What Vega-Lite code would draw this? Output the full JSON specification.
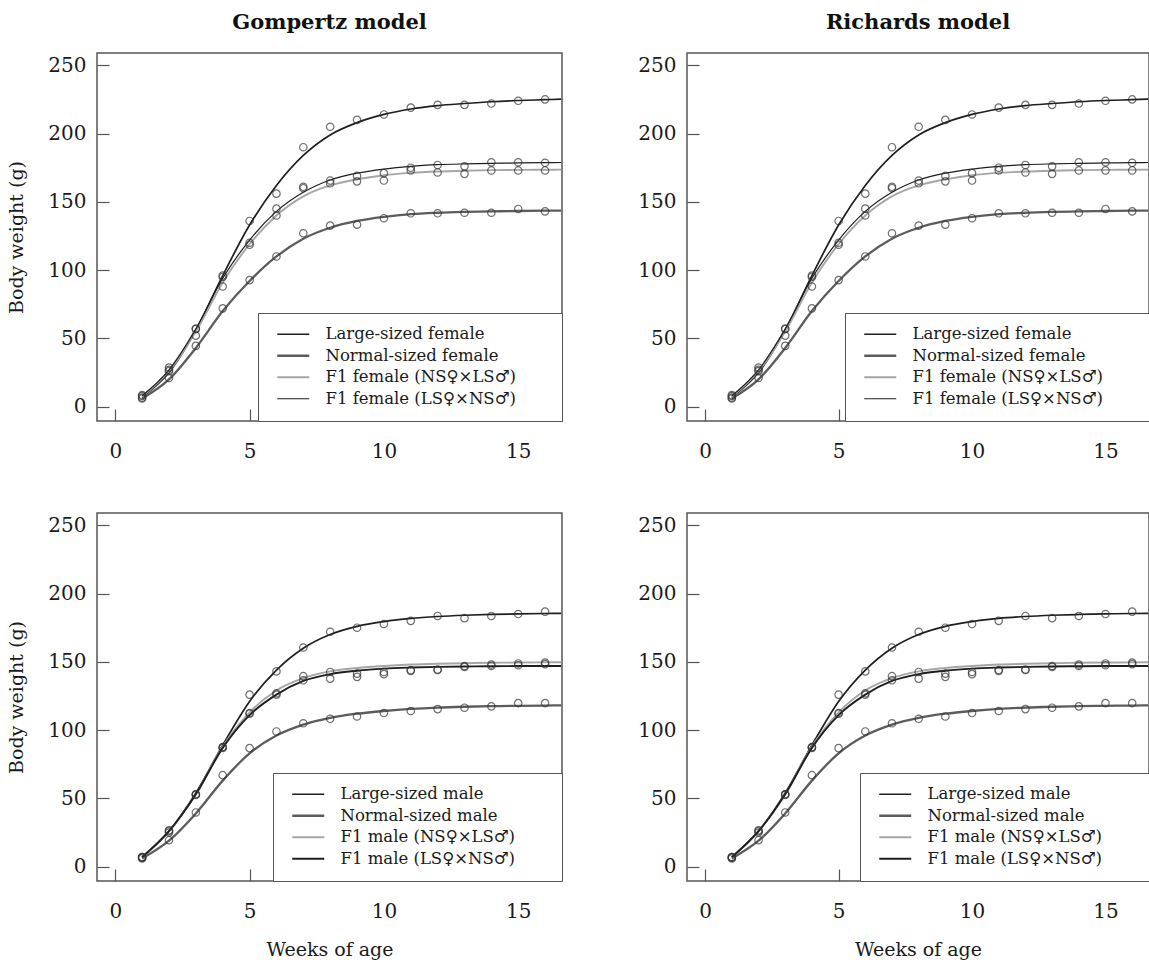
{
  "$schema": "https://vega.github.io/schema/vega-lite/v6.json",
  "background": "white",
  "padding": {"left": 7, "top": 11, "right": 0, "bottom": 0},
  "bounds": "flush",
  "columns": 2,
  "spacing": {"row": 92, "column": 125},
  "config": {
    "font": "DejaVu Serif",
    "view": {"stroke": "#555555", "strokeWidth": 1.5},
    "axis": {"domain": false, "grid": false, "tickColor": "#555555", "tickSize": -12, "tickWidth": 1.2,
      "labelFont": "DejaVu Serif", "labelFontSize": 20, "labelColor": "#1a1a1a",
      "titleFont": "DejaVu Serif", "titleFontSize": 19, "titleFontWeight": "normal", "titleColor": "#1a1a1a"},
    "axisY": {"labelPadding": 23, "titlePadding": 21},
    "axisX": {"labelPadding": 32, "titlePadding": 19},
    "title": {"font": "DejaVu Serif", "fontSize": 21, "fontWeight": "bold", "color": "#111111", "offset": 20},
    "legend": {"orient": "bottom-right", "offset": 0, "fillColor": "white", "strokeColor": "#555555", "padding": 13,
      "symbolType": "M-3.2,0H3.2", "symbolSize": 100, "symbolStrokeWidth": 2, "labelFont": "DejaVu Serif", "labelFontSize": 16.5,
      "labelColor": "#1a1a1a", "labelOffset": 24, "rowPadding": 4.5, "symbolOffset": 14, "labelLimit": 500}
  },
  "resolve": {"scale": {"color": "independent", "strokeWidth": "independent"}, "legend": {"color": "independent", "strokeWidth": "independent"}},
  "datasets": {
    "obs": [
      {"sex":"F","series":"Large-sized female","week":1,"weight":7.8},{"sex":"F","series":"Large-sized female","week":2,"weight":27},{"sex":"F","series":"Large-sized female","week":3,"weight":57},{"sex":"F","series":"Large-sized female","week":4,"weight":95},{"sex":"F","series":"Large-sized female","week":5,"weight":136},{"sex":"F","series":"Large-sized female","week":6,"weight":156},{"sex":"F","series":"Large-sized female","week":7,"weight":190},{"sex":"F","series":"Large-sized female","week":8,"weight":205},{"sex":"F","series":"Large-sized female","week":9,"weight":210},{"sex":"F","series":"Large-sized female","week":10,"weight":214},{"sex":"F","series":"Large-sized female","week":11,"weight":219},{"sex":"F","series":"Large-sized female","week":12,"weight":221},{"sex":"F","series":"Large-sized female","week":13,"weight":221},{"sex":"F","series":"Large-sized female","week":14,"weight":222},{"sex":"F","series":"Large-sized female","week":15,"weight":224},{"sex":"F","series":"Large-sized female","week":16,"weight":225},
      {"sex":"F","series":"Normal-sized female","week":1,"weight":6},{"sex":"F","series":"Normal-sized female","week":2,"weight":21},{"sex":"F","series":"Normal-sized female","week":3,"weight":44.5},{"sex":"F","series":"Normal-sized female","week":4,"weight":72},{"sex":"F","series":"Normal-sized female","week":5,"weight":92.7},{"sex":"F","series":"Normal-sized female","week":6,"weight":110},{"sex":"F","series":"Normal-sized female","week":7,"weight":127},{"sex":"F","series":"Normal-sized female","week":8,"weight":132.6},{"sex":"F","series":"Normal-sized female","week":9,"weight":133.3},{"sex":"F","series":"Normal-sized female","week":10,"weight":138},{"sex":"F","series":"Normal-sized female","week":11,"weight":141.6},{"sex":"F","series":"Normal-sized female","week":12,"weight":141.6},{"sex":"F","series":"Normal-sized female","week":13,"weight":142},{"sex":"F","series":"Normal-sized female","week":14,"weight":142},{"sex":"F","series":"Normal-sized female","week":15,"weight":144.8},{"sex":"F","series":"Normal-sized female","week":16,"weight":143},
      {"sex":"F","series":"F1 female (NS♀×LS♂)","week":1,"weight":6.6},{"sex":"F","series":"F1 female (NS♀×LS♂)","week":2,"weight":26},{"sex":"F","series":"F1 female (NS♀×LS♂)","week":3,"weight":52},{"sex":"F","series":"F1 female (NS♀×LS♂)","week":4,"weight":88},{"sex":"F","series":"F1 female (NS♀×LS♂)","week":5,"weight":118.6},{"sex":"F","series":"F1 female (NS♀×LS♂)","week":6,"weight":140},{"sex":"F","series":"F1 female (NS♀×LS♂)","week":7,"weight":160},{"sex":"F","series":"F1 female (NS♀×LS♂)","week":8,"weight":163.6},{"sex":"F","series":"F1 female (NS♀×LS♂)","week":9,"weight":165},{"sex":"F","series":"F1 female (NS♀×LS♂)","week":10,"weight":165.6},{"sex":"F","series":"F1 female (NS♀×LS♂)","week":11,"weight":173},{"sex":"F","series":"F1 female (NS♀×LS♂)","week":12,"weight":171.5},{"sex":"F","series":"F1 female (NS♀×LS♂)","week":13,"weight":170.5},{"sex":"F","series":"F1 female (NS♀×LS♂)","week":14,"weight":173},{"sex":"F","series":"F1 female (NS♀×LS♂)","week":15,"weight":173},{"sex":"F","series":"F1 female (NS♀×LS♂)","week":16,"weight":173},
      {"sex":"F","series":"F1 female (LS♀×NS♂)","week":1,"weight":8.5},{"sex":"F","series":"F1 female (LS♀×NS♂)","week":2,"weight":28.6},{"sex":"F","series":"F1 female (LS♀×NS♂)","week":3,"weight":57},{"sex":"F","series":"F1 female (LS♀×NS♂)","week":4,"weight":96},{"sex":"F","series":"F1 female (LS♀×NS♂)","week":5,"weight":120},{"sex":"F","series":"F1 female (LS♀×NS♂)","week":6,"weight":145},{"sex":"F","series":"F1 female (LS♀×NS♂)","week":7,"weight":161},{"sex":"F","series":"F1 female (LS♀×NS♂)","week":8,"weight":165.6},{"sex":"F","series":"F1 female (LS♀×NS♂)","week":9,"weight":169},{"sex":"F","series":"F1 female (LS♀×NS♂)","week":10,"weight":171},{"sex":"F","series":"F1 female (LS♀×NS♂)","week":11,"weight":175},{"sex":"F","series":"F1 female (LS♀×NS♂)","week":12,"weight":177},{"sex":"F","series":"F1 female (LS♀×NS♂)","week":13,"weight":176},{"sex":"F","series":"F1 female (LS♀×NS♂)","week":14,"weight":179},{"sex":"F","series":"F1 female (LS♀×NS♂)","week":15,"weight":179},{"sex":"F","series":"F1 female (LS♀×NS♂)","week":16,"weight":178.6},
      {"sex":"M","series":"Large-sized male","week":1,"weight":7},{"sex":"M","series":"Large-sized male","week":2,"weight":26.7},{"sex":"M","series":"Large-sized male","week":3,"weight":53},{"sex":"M","series":"Large-sized male","week":4,"weight":87.5},{"sex":"M","series":"Large-sized male","week":5,"weight":126},{"sex":"M","series":"Large-sized male","week":6,"weight":143},{"sex":"M","series":"Large-sized male","week":7,"weight":160.5},{"sex":"M","series":"Large-sized male","week":8,"weight":172},{"sex":"M","series":"Large-sized male","week":9,"weight":175},{"sex":"M","series":"Large-sized male","week":10,"weight":177.7},{"sex":"M","series":"Large-sized male","week":11,"weight":180},{"sex":"M","series":"Large-sized male","week":12,"weight":183.6},{"sex":"M","series":"Large-sized male","week":13,"weight":182},{"sex":"M","series":"Large-sized male","week":14,"weight":183.6},{"sex":"M","series":"Large-sized male","week":15,"weight":185},{"sex":"M","series":"Large-sized male","week":16,"weight":186.8},
      {"sex":"M","series":"Normal-sized male","week":1,"weight":6},{"sex":"M","series":"Normal-sized male","week":2,"weight":19.4},{"sex":"M","series":"Normal-sized male","week":3,"weight":39.7},{"sex":"M","series":"Normal-sized male","week":4,"weight":67},{"sex":"M","series":"Normal-sized male","week":5,"weight":86.8},{"sex":"M","series":"Normal-sized male","week":6,"weight":99},{"sex":"M","series":"Normal-sized male","week":7,"weight":105},{"sex":"M","series":"Normal-sized male","week":8,"weight":108.3},{"sex":"M","series":"Normal-sized male","week":9,"weight":110},{"sex":"M","series":"Normal-sized male","week":10,"weight":112.5},{"sex":"M","series":"Normal-sized male","week":11,"weight":114},{"sex":"M","series":"Normal-sized male","week":12,"weight":115.4},{"sex":"M","series":"Normal-sized male","week":13,"weight":116.4},{"sex":"M","series":"Normal-sized male","week":14,"weight":117.4},{"sex":"M","series":"Normal-sized male","week":15,"weight":119.8},{"sex":"M","series":"Normal-sized male","week":16,"weight":119.8},
      {"sex":"M","series":"F1 male (NS♀×LS♂)","week":1,"weight":7},{"sex":"M","series":"F1 male (NS♀×LS♂)","week":2,"weight":26},{"sex":"M","series":"F1 male (NS♀×LS♂)","week":3,"weight":53},{"sex":"M","series":"F1 male (NS♀×LS♂)","week":4,"weight":87.5},{"sex":"M","series":"F1 male (NS♀×LS♂)","week":5,"weight":112.5},{"sex":"M","series":"F1 male (NS♀×LS♂)","week":6,"weight":127},{"sex":"M","series":"F1 male (NS♀×LS♂)","week":7,"weight":139.5},{"sex":"M","series":"F1 male (NS♀×LS♂)","week":8,"weight":142.6},{"sex":"M","series":"F1 male (NS♀×LS♂)","week":9,"weight":141.4},{"sex":"M","series":"F1 male (NS♀×LS♂)","week":10,"weight":142.6},{"sex":"M","series":"F1 male (NS♀×LS♂)","week":11,"weight":144},{"sex":"M","series":"F1 male (NS♀×LS♂)","week":12,"weight":144.4},{"sex":"M","series":"F1 male (NS♀×LS♂)","week":13,"weight":147},{"sex":"M","series":"F1 male (NS♀×LS♂)","week":14,"weight":148},{"sex":"M","series":"F1 male (NS♀×LS♂)","week":15,"weight":148.8},{"sex":"M","series":"F1 male (NS♀×LS♂)","week":16,"weight":149.5},
      {"sex":"M","series":"F1 male (LS♀×NS♂)","week":1,"weight":6.6},{"sex":"M","series":"F1 male (LS♀×NS♂)","week":2,"weight":25},{"sex":"M","series":"F1 male (LS♀×NS♂)","week":3,"weight":52.5},{"sex":"M","series":"F1 male (LS♀×NS♂)","week":4,"weight":87},{"sex":"M","series":"F1 male (LS♀×NS♂)","week":5,"weight":112},{"sex":"M","series":"F1 male (LS♀×NS♂)","week":6,"weight":126},{"sex":"M","series":"F1 male (LS♀×NS♂)","week":7,"weight":136.5},{"sex":"M","series":"F1 male (LS♀×NS♂)","week":8,"weight":137.7},{"sex":"M","series":"F1 male (LS♀×NS♂)","week":9,"weight":139},{"sex":"M","series":"F1 male (LS♀×NS♂)","week":10,"weight":141},{"sex":"M","series":"F1 male (LS♀×NS♂)","week":11,"weight":143.4},{"sex":"M","series":"F1 male (LS♀×NS♂)","week":12,"weight":144},{"sex":"M","series":"F1 male (LS♀×NS♂)","week":13,"weight":146.3},{"sex":"M","series":"F1 male (LS♀×NS♂)","week":14,"weight":147},{"sex":"M","series":"F1 male (LS♀×NS♂)","week":15,"weight":147.5},{"sex":"M","series":"F1 male (LS♀×NS♂)","week":16,"weight":148.3}
    ],
    "fit": [
      {"sex":"F","series":"Large-sized female","week":1,"weight":7},{"sex":"F","series":"Large-sized female","week":2,"weight":25},{"sex":"F","series":"Large-sized female","week":3,"weight":56},{"sex":"F","series":"Large-sized female","week":4,"weight":96},{"sex":"F","series":"Large-sized female","week":5,"weight":133},{"sex":"F","series":"Large-sized female","week":6,"weight":162},{"sex":"F","series":"Large-sized female","week":7,"weight":184},{"sex":"F","series":"Large-sized female","week":8,"weight":199},{"sex":"F","series":"Large-sized female","week":9,"weight":208},{"sex":"F","series":"Large-sized female","week":10,"weight":214},{"sex":"F","series":"Large-sized female","week":11,"weight":218},{"sex":"F","series":"Large-sized female","week":12,"weight":220.5},{"sex":"F","series":"Large-sized female","week":13,"weight":222},{"sex":"F","series":"Large-sized female","week":14,"weight":223.3},{"sex":"F","series":"Large-sized female","week":15,"weight":224.2},{"sex":"F","series":"Large-sized female","week":16,"weight":224.8},{"sex":"F","series":"Large-sized female","week":16.6,"weight":225.2},
      {"sex":"F","series":"Normal-sized female","week":1,"weight":6},{"sex":"F","series":"Normal-sized female","week":2,"weight":20},{"sex":"F","series":"Normal-sized female","week":3,"weight":43},{"sex":"F","series":"Normal-sized female","week":4,"weight":70},{"sex":"F","series":"Normal-sized female","week":5,"weight":92},{"sex":"F","series":"Normal-sized female","week":6,"weight":110},{"sex":"F","series":"Normal-sized female","week":7,"weight":123},{"sex":"F","series":"Normal-sized female","week":8,"weight":131},{"sex":"F","series":"Normal-sized female","week":9,"weight":136},{"sex":"F","series":"Normal-sized female","week":10,"weight":139},{"sex":"F","series":"Normal-sized female","week":11,"weight":141},{"sex":"F","series":"Normal-sized female","week":12,"weight":142},{"sex":"F","series":"Normal-sized female","week":13,"weight":142.6},{"sex":"F","series":"Normal-sized female","week":14,"weight":143},{"sex":"F","series":"Normal-sized female","week":15,"weight":143.3},{"sex":"F","series":"Normal-sized female","week":16,"weight":143.5},{"sex":"F","series":"Normal-sized female","week":16.6,"weight":143.6},
      {"sex":"F","series":"F1 female (NS♀×LS♂)","week":1,"weight":7.5},{"sex":"F","series":"F1 female (NS♀×LS♂)","week":2,"weight":26},{"sex":"F","series":"F1 female (NS♀×LS♂)","week":3,"weight":55},{"sex":"F","series":"F1 female (NS♀×LS♂)","week":4,"weight":91},{"sex":"F","series":"F1 female (NS♀×LS♂)","week":5,"weight":119},{"sex":"F","series":"F1 female (NS♀×LS♂)","week":6,"weight":140},{"sex":"F","series":"F1 female (NS♀×LS♂)","week":7,"weight":154},{"sex":"F","series":"F1 female (NS♀×LS♂)","week":8,"weight":162},{"sex":"F","series":"F1 female (NS♀×LS♂)","week":9,"weight":166.5},{"sex":"F","series":"F1 female (NS♀×LS♂)","week":10,"weight":169.5},{"sex":"F","series":"F1 female (NS♀×LS♂)","week":11,"weight":171.2},{"sex":"F","series":"F1 female (NS♀×LS♂)","week":12,"weight":172.2},{"sex":"F","series":"F1 female (NS♀×LS♂)","week":13,"weight":172.8},{"sex":"F","series":"F1 female (NS♀×LS♂)","week":14,"weight":173.2},{"sex":"F","series":"F1 female (NS♀×LS♂)","week":15,"weight":173.4},{"sex":"F","series":"F1 female (NS♀×LS♂)","week":16,"weight":173.5},{"sex":"F","series":"F1 female (NS♀×LS♂)","week":16.6,"weight":173.6},
      {"sex":"F","series":"F1 female (LS♀×NS♂)","week":1,"weight":8},{"sex":"F","series":"F1 female (LS♀×NS♂)","week":2,"weight":27},{"sex":"F","series":"F1 female (LS♀×NS♂)","week":3,"weight":57},{"sex":"F","series":"F1 female (LS♀×NS♂)","week":4,"weight":94},{"sex":"F","series":"F1 female (LS♀×NS♂)","week":5,"weight":122},{"sex":"F","series":"F1 female (LS♀×NS♂)","week":6,"weight":143},{"sex":"F","series":"F1 female (LS♀×NS♂)","week":7,"weight":157},{"sex":"F","series":"F1 female (LS♀×NS♂)","week":8,"weight":166},{"sex":"F","series":"F1 female (LS♀×NS♂)","week":9,"weight":171},{"sex":"F","series":"F1 female (LS♀×NS♂)","week":10,"weight":174},{"sex":"F","series":"F1 female (LS♀×NS♂)","week":11,"weight":176},{"sex":"F","series":"F1 female (LS♀×NS♂)","week":12,"weight":177.2},{"sex":"F","series":"F1 female (LS♀×NS♂)","week":13,"weight":177.8},{"sex":"F","series":"F1 female (LS♀×NS♂)","week":14,"weight":178.2},{"sex":"F","series":"F1 female (LS♀×NS♂)","week":15,"weight":178.5},{"sex":"F","series":"F1 female (LS♀×NS♂)","week":16,"weight":178.7},{"sex":"F","series":"F1 female (LS♀×NS♂)","week":16.6,"weight":178.8},
      {"sex":"M","series":"Large-sized male","week":1,"weight":7},{"sex":"M","series":"Large-sized male","week":2,"weight":26},{"sex":"M","series":"Large-sized male","week":3,"weight":54},{"sex":"M","series":"Large-sized male","week":4,"weight":89},{"sex":"M","series":"Large-sized male","week":5,"weight":121},{"sex":"M","series":"Large-sized male","week":6,"weight":144},{"sex":"M","series":"Large-sized male","week":7,"weight":160},{"sex":"M","series":"Large-sized male","week":8,"weight":170},{"sex":"M","series":"Large-sized male","week":9,"weight":176},{"sex":"M","series":"Large-sized male","week":10,"weight":179.5},{"sex":"M","series":"Large-sized male","week":11,"weight":181.8},{"sex":"M","series":"Large-sized male","week":12,"weight":183.2},{"sex":"M","series":"Large-sized male","week":13,"weight":184.1},{"sex":"M","series":"Large-sized male","week":14,"weight":184.7},{"sex":"M","series":"Large-sized male","week":15,"weight":185.1},{"sex":"M","series":"Large-sized male","week":16,"weight":185.4},{"sex":"M","series":"Large-sized male","week":16.6,"weight":185.5},
      {"sex":"M","series":"Normal-sized male","week":1,"weight":6},{"sex":"M","series":"Normal-sized male","week":2,"weight":19},{"sex":"M","series":"Normal-sized male","week":3,"weight":39},{"sex":"M","series":"Normal-sized male","week":4,"weight":63},{"sex":"M","series":"Normal-sized male","week":5,"weight":83},{"sex":"M","series":"Normal-sized male","week":6,"weight":96},{"sex":"M","series":"Normal-sized male","week":7,"weight":104},{"sex":"M","series":"Normal-sized male","week":8,"weight":109},{"sex":"M","series":"Normal-sized male","week":9,"weight":112},{"sex":"M","series":"Normal-sized male","week":10,"weight":114},{"sex":"M","series":"Normal-sized male","week":11,"weight":115.5},{"sex":"M","series":"Normal-sized male","week":12,"weight":116.5},{"sex":"M","series":"Normal-sized male","week":13,"weight":117.1},{"sex":"M","series":"Normal-sized male","week":14,"weight":117.5},{"sex":"M","series":"Normal-sized male","week":15,"weight":117.8},{"sex":"M","series":"Normal-sized male","week":16,"weight":118},{"sex":"M","series":"Normal-sized male","week":16.6,"weight":118.1},
      {"sex":"M","series":"F1 male (NS♀×LS♂)","week":1,"weight":7},{"sex":"M","series":"F1 male (NS♀×LS♂)","week":2,"weight":26},{"sex":"M","series":"F1 male (NS♀×LS♂)","week":3,"weight":53},{"sex":"M","series":"F1 male (NS♀×LS♂)","week":4,"weight":88},{"sex":"M","series":"F1 male (NS♀×LS♂)","week":5,"weight":113},{"sex":"M","series":"F1 male (NS♀×LS♂)","week":6,"weight":129},{"sex":"M","series":"F1 male (NS♀×LS♂)","week":7,"weight":138},{"sex":"M","series":"F1 male (NS♀×LS♂)","week":8,"weight":143},{"sex":"M","series":"F1 male (NS♀×LS♂)","week":9,"weight":145.5},{"sex":"M","series":"F1 male (NS♀×LS♂)","week":10,"weight":147},{"sex":"M","series":"F1 male (NS♀×LS♂)","week":11,"weight":148},{"sex":"M","series":"F1 male (NS♀×LS♂)","week":12,"weight":148.6},{"sex":"M","series":"F1 male (NS♀×LS♂)","week":13,"weight":149},{"sex":"M","series":"F1 male (NS♀×LS♂)","week":14,"weight":149.3},{"sex":"M","series":"F1 male (NS♀×LS♂)","week":15,"weight":149.5},{"sex":"M","series":"F1 male (NS♀×LS♂)","week":16,"weight":149.6},{"sex":"M","series":"F1 male (NS♀×LS♂)","week":16.6,"weight":149.7},
      {"sex":"M","series":"F1 male (LS♀×NS♂)","week":1,"weight":7},{"sex":"M","series":"F1 male (LS♀×NS♂)","week":2,"weight":26},{"sex":"M","series":"F1 male (LS♀×NS♂)","week":3,"weight":53},{"sex":"M","series":"F1 male (LS♀×NS♂)","week":4,"weight":87},{"sex":"M","series":"F1 male (LS♀×NS♂)","week":5,"weight":111},{"sex":"M","series":"F1 male (LS♀×NS♂)","week":6,"weight":126},{"sex":"M","series":"F1 male (LS♀×NS♂)","week":7,"weight":136},{"sex":"M","series":"F1 male (LS♀×NS♂)","week":8,"weight":141},{"sex":"M","series":"F1 male (LS♀×NS♂)","week":9,"weight":143.5},{"sex":"M","series":"F1 male (LS♀×NS♂)","week":10,"weight":145},{"sex":"M","series":"F1 male (LS♀×NS♂)","week":11,"weight":145.8},{"sex":"M","series":"F1 male (LS♀×NS♂)","week":12,"weight":146.3},{"sex":"M","series":"F1 male (LS♀×NS♂)","week":13,"weight":146.6},{"sex":"M","series":"F1 male (LS♀×NS♂)","week":14,"weight":146.8},{"sex":"M","series":"F1 male (LS♀×NS♂)","week":15,"weight":146.9},{"sex":"M","series":"F1 male (LS♀×NS♂)","week":16,"weight":147},{"sex":"M","series":"F1 male (LS♀×NS♂)","week":16.6,"weight":147}
    ]
  },
  "concat": [
    {
      "width": 465, "height": 368,
      "title": {"text": "Gompertz model"},
      "layer": [
        {"data": {"name": "fit"}, "transform": [{"filter": "datum.sex === 'F'"}],
         "mark": {"type": "line", "interpolate": "monotone", "clip": true},
         "encoding": {
           "x": {"field": "week", "type": "quantitative", "scale": {"domain": [-0.68, 16.63], "nice": false, "zero": false}, "axis": {"values": [0, 5, 10, 15], "title": null}},
           "y": {"field": "weight", "type": "quantitative", "scale": {"domain": [-10.5, 259], "nice": false, "zero": false}, "axis": {"values": [0, 50, 100, 150, 200, 250], "title": "Body weight (g)"}},
           "color": {"field": "series", "type": "nominal", "scale": {"domain": ["Large-sized female", "Normal-sized female", "F1 female (NS♀×LS♂)", "F1 female (LS♀×NS♂)"], "range": ["#1e1e1e", "#5c5c5c", "#a6a6a6", "#1e1e1e"]}, "legend": {"title": null, "labelExpr": "datum.label + '\u2003\u2003\u200b'"}},
           "strokeWidth": {"field": "series", "type": "nominal", "scale": {"type": "ordinal", "domain": ["Large-sized female", "Normal-sized female", "F1 female (NS♀×LS♂)", "F1 female (LS♀×NS♂)"], "range": [1.7, 2.3, 1.9, 1.2]}, "legend": {"title": null, "labelExpr": "datum.label + '\u2003\u2003\u200b'"}}
         }},
        {"data": {"name": "obs"}, "transform": [{"filter": "datum.sex === 'F'"}],
         "mark": {"type": "point", "shape": "circle", "filled": false, "size": 55, "color": "#333333", "strokeWidth": 1.2},
         "encoding": {
           "x": {"field": "week", "type": "quantitative"},
           "y": {"field": "weight", "type": "quantitative"}
         }}
      ]
    },
    {
      "width": 462, "height": 368,
      "title": {"text": "Richards model"},
      "layer": [
        {"data": {"name": "fit"}, "transform": [{"filter": "datum.sex === 'F'"}],
         "mark": {"type": "line", "interpolate": "monotone", "clip": true},
         "encoding": {
           "x": {"field": "week", "type": "quantitative", "scale": {"domain": [-0.68, 16.63], "nice": false, "zero": false}, "axis": {"values": [0, 5, 10, 15], "title": null}},
           "y": {"field": "weight", "type": "quantitative", "scale": {"domain": [-10.5, 259], "nice": false, "zero": false}, "axis": {"values": [0, 50, 100, 150, 200, 250], "title": null}},
           "color": {"field": "series", "type": "nominal", "scale": {"domain": ["Large-sized female", "Normal-sized female", "F1 female (NS♀×LS♂)", "F1 female (LS♀×NS♂)"], "range": ["#1e1e1e", "#5c5c5c", "#a6a6a6", "#1e1e1e"]}, "legend": {"title": null, "labelExpr": "datum.label + '\u2003\u2003\u200b'"}},
           "strokeWidth": {"field": "series", "type": "nominal", "scale": {"type": "ordinal", "domain": ["Large-sized female", "Normal-sized female", "F1 female (NS♀×LS♂)", "F1 female (LS♀×NS♂)"], "range": [1.7, 2.3, 1.9, 1.2]}, "legend": {"title": null, "labelExpr": "datum.label + '\u2003\u2003\u200b'"}}
         }},
        {"data": {"name": "obs"}, "transform": [{"filter": "datum.sex === 'F'"}],
         "mark": {"type": "point", "shape": "circle", "filled": false, "size": 55, "color": "#333333", "strokeWidth": 1.2},
         "encoding": {
           "x": {"field": "week", "type": "quantitative"},
           "y": {"field": "weight", "type": "quantitative"}
         }}
      ]
    },
    {
      "width": 465, "height": 368,
      "layer": [
        {"data": {"name": "fit"}, "transform": [{"filter": "datum.sex === 'M'"}],
         "mark": {"type": "line", "interpolate": "monotone", "clip": true},
         "encoding": {
           "x": {"field": "week", "type": "quantitative", "scale": {"domain": [-0.68, 16.63], "nice": false, "zero": false}, "axis": {"values": [0, 5, 10, 15], "title": "Weeks of age"}},
           "y": {"field": "weight", "type": "quantitative", "scale": {"domain": [-10.5, 259], "nice": false, "zero": false}, "axis": {"values": [0, 50, 100, 150, 200, 250], "title": "Body weight (g)"}},
           "color": {"field": "series", "type": "nominal", "scale": {"domain": ["Large-sized male", "Normal-sized male", "F1 male (NS♀×LS♂)", "F1 male (LS♀×NS♂)"], "range": ["#1e1e1e", "#5c5c5c", "#a6a6a6", "#1e1e1e"]}, "legend": {"title": null, "labelExpr": "datum.label + '\u2003\u2003\u200b'"}},
           "strokeWidth": {"field": "series", "type": "nominal", "scale": {"type": "ordinal", "domain": ["Large-sized male", "Normal-sized male", "F1 male (NS♀×LS♂)", "F1 male (LS♀×NS♂)"], "range": [1.7, 2.3, 1.9, 1.9]}, "legend": {"title": null, "labelExpr": "datum.label + '\u2003\u2003\u200b'"}}
         }},
        {"data": {"name": "obs"}, "transform": [{"filter": "datum.sex === 'M'"}],
         "mark": {"type": "point", "shape": "circle", "filled": false, "size": 55, "color": "#333333", "strokeWidth": 1.2},
         "encoding": {
           "x": {"field": "week", "type": "quantitative"},
           "y": {"field": "weight", "type": "quantitative"}
         }}
      ]
    },
    {
      "width": 462, "height": 368,
      "layer": [
        {"data": {"name": "fit"}, "transform": [{"filter": "datum.sex === 'M'"}],
         "mark": {"type": "line", "interpolate": "monotone", "clip": true},
         "encoding": {
           "x": {"field": "week", "type": "quantitative", "scale": {"domain": [-0.68, 16.63], "nice": false, "zero": false}, "axis": {"values": [0, 5, 10, 15], "title": "Weeks of age"}},
           "y": {"field": "weight", "type": "quantitative", "scale": {"domain": [-10.5, 259], "nice": false, "zero": false}, "axis": {"values": [0, 50, 100, 150, 200, 250], "title": null}},
           "color": {"field": "series", "type": "nominal", "scale": {"domain": ["Large-sized male", "Normal-sized male", "F1 male (NS♀×LS♂)", "F1 male (LS♀×NS♂)"], "range": ["#1e1e1e", "#5c5c5c", "#a6a6a6", "#1e1e1e"]}, "legend": {"title": null, "labelExpr": "datum.label + '\u2003\u2003\u200b'"}},
           "strokeWidth": {"field": "series", "type": "nominal", "scale": {"type": "ordinal", "domain": ["Large-sized male", "Normal-sized male", "F1 male (NS♀×LS♂)", "F1 male (LS♀×NS♂)"], "range": [1.7, 2.3, 1.9, 1.9]}, "legend": {"title": null, "labelExpr": "datum.label + '\u2003\u2003\u200b'"}}
         }},
        {"data": {"name": "obs"}, "transform": [{"filter": "datum.sex === 'M'"}],
         "mark": {"type": "point", "shape": "circle", "filled": false, "size": 55, "color": "#333333", "strokeWidth": 1.2},
         "encoding": {
           "x": {"field": "week", "type": "quantitative"},
           "y": {"field": "weight", "type": "quantitative"}
         }}
      ]
    }
  ]
}
